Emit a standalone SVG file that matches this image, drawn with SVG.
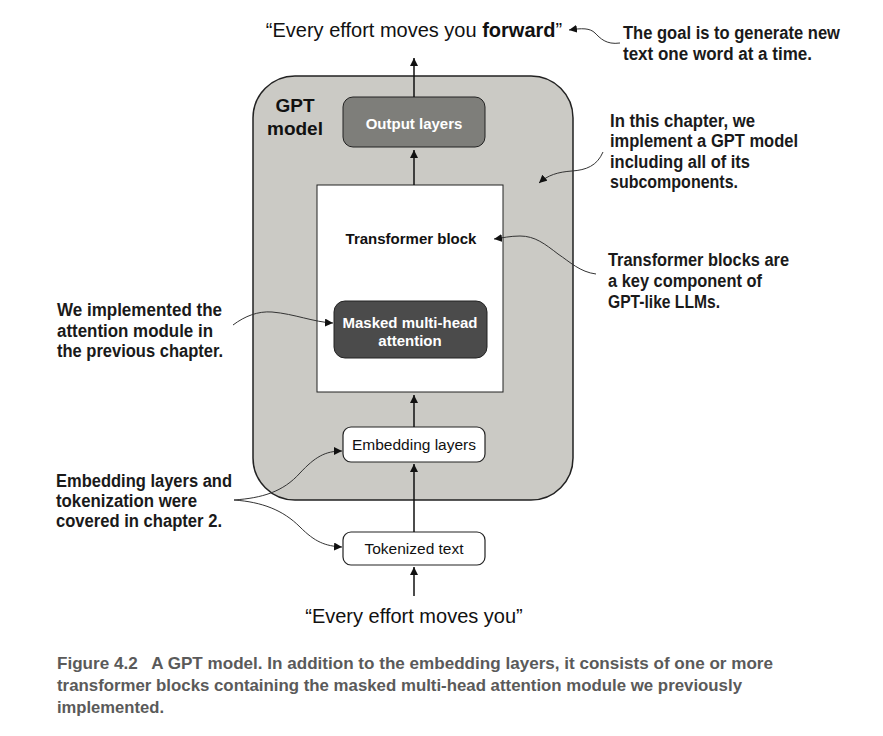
<svg xmlns="http://www.w3.org/2000/svg" width="883" height="736" viewBox="0 0 883 736">
<defs>
<marker id="ah" viewBox="0 0 10 10" refX="10" refY="5" markerWidth="8" markerHeight="8" markerUnits="userSpaceOnUse" orient="auto">
<path d="M0,0 L10,5 L0,10 z" fill="#111"/>
</marker>
<marker id="ahs" viewBox="0 0 10 10" refX="10" refY="5" markerWidth="8" markerHeight="8" markerUnits="userSpaceOnUse" orient="auto">
<path d="M0,0 L10,5 L0,10 z" fill="#111"/>
</marker>
</defs>
<style>
.main{font-family:"Liberation Sans",Arial,sans-serif;fill:#111}
.b{font-weight:bold}
.wt{fill:#fff;font-weight:bold;font-family:"Liberation Sans",Arial,sans-serif;font-size:15px}
.ann{font-family:"Liberation Sans",Arial,sans-serif;font-weight:bold;font-size:17.5px;fill:#1a1a1a}
.cap{font-family:"Liberation Sans",Arial,sans-serif;font-weight:bold;font-size:16.5px;fill:#5a5a5a}
.flow{stroke:#111;stroke-width:1.5;fill:none;marker-end:url(#ah)}
.note{stroke:#333;stroke-width:1;fill:none;marker-end:url(#ahs)}
</style>
<rect width="883" height="736" fill="#fff"/>

<g id="gpt-model">
<rect x="253" y="76" width="320" height="424" rx="42" fill="#cbcac5" stroke="#222" stroke-width="1.5"/>
<text class="main b" x="295" y="112" font-size="19" text-anchor="middle">GPT</text>
<text class="main b" x="295" y="135" font-size="19" text-anchor="middle">model</text>
</g>

<g id="transformer-block">
<rect x="317" y="185" width="186" height="207" fill="#fff" stroke="#222" stroke-width="1"/>
<text class="main b" x="411" y="244" font-size="15" text-anchor="middle">Transformer block</text>
</g>

<g id="output-layers">
<rect x="343" y="97" width="142" height="50" rx="10" fill="#7e7e7a" stroke="#222" stroke-width="1"/>
<text class="wt" x="414" y="129" text-anchor="middle">Output layers</text>
</g>

<g id="masked-attention">
<rect x="334" y="301" width="153" height="57" rx="11" fill="#4b4b4b" stroke="#222" stroke-width="1"/>
<text class="wt" x="410" y="328" text-anchor="middle">Masked multi-head</text>
<text class="wt" x="410" y="346" text-anchor="middle">attention</text>
</g>

<g id="embedding-layers">
<rect x="343" y="427" width="142" height="35" rx="8" fill="#fff" stroke="#222" stroke-width="1.2"/>
<text class="main" x="414" y="450" font-size="15.5" text-anchor="middle">Embedding layers</text>
</g>

<g id="tokenized-text">
<rect x="343" y="532" width="142" height="33" rx="8" fill="#fff" stroke="#222" stroke-width="1.2"/>
<text class="main" x="414" y="554" font-size="15.5" text-anchor="middle">Tokenized text</text>
</g>

<g id="output-text">
<text class="main" x="414" y="37" font-size="20" text-anchor="middle">“Every effort moves you <tspan class="b">forward</tspan>”</text>
</g>

<g id="input-text">
<text class="main" x="414" y="623" font-size="20" text-anchor="middle">“Every effort moves you”</text>
</g>

<g id="connectors">
<line class="flow" x1="414" y1="97" x2="414" y2="58"/>
<line class="flow" x1="414" y1="185" x2="414" y2="150"/>
<line class="flow" x1="414" y1="427" x2="414" y2="395"/>
<line class="flow" x1="414" y1="532" x2="414" y2="464"/>
<line class="flow" x1="414" y1="596" x2="414" y2="567"/>
<path class="note" d="M620,43 C606,45 600,38 595,33 C590,28 582,28 569,30"/>
<path class="note" d="M603,152 C597,166 586,170 572,171 C558,172 548,175 539,183"/>
<path class="note" d="M596,274 C580,272 570,262 558,254 C545,244 535,236 520,236 C510,236 502,238 494,239"/>
<path class="note" d="M233,325 C245,316 258,311 272,312 C295,314 313,322 333,323"/>
<path class="note" d="M234,500 C262,498 283,492 300,473 C315,457 325,451 342,451"/>
<path class="note" d="M234,500 C262,502 283,510 300,527 C315,542 325,546 342,547"/>
</g>

<g id="notes">
<text class="ann" x="623" y="39" textLength="217" lengthAdjust="spacingAndGlyphs">The goal is to generate new</text>
<text class="ann" x="623" y="60" textLength="189" lengthAdjust="spacingAndGlyphs">text one word at a time.</text>

<text class="ann" x="610" y="127" textLength="145" lengthAdjust="spacingAndGlyphs">In this chapter, we</text>
<text class="ann" x="610" y="147" textLength="188" lengthAdjust="spacingAndGlyphs">implement a GPT model</text>
<text class="ann" x="610" y="168" textLength="140" lengthAdjust="spacingAndGlyphs">including all of its</text>
<text class="ann" x="610" y="188" textLength="128" lengthAdjust="spacingAndGlyphs">subcomponents.</text>

<text class="ann" x="608" y="266" textLength="181" lengthAdjust="spacingAndGlyphs">Transformer blocks are</text>
<text class="ann" x="608" y="287" textLength="154" lengthAdjust="spacingAndGlyphs">a key component of</text>
<text class="ann" x="608" y="308" textLength="112" lengthAdjust="spacingAndGlyphs">GPT-like LLMs.</text>

<text class="ann" x="57" y="316" textLength="165" lengthAdjust="spacingAndGlyphs">We implemented the</text>
<text class="ann" x="57" y="337" textLength="156" lengthAdjust="spacingAndGlyphs">attention module in</text>
<text class="ann" x="57" y="357" textLength="166" lengthAdjust="spacingAndGlyphs">the previous chapter.</text>

<text class="ann" x="56" y="487" textLength="176" lengthAdjust="spacingAndGlyphs">Embedding layers and</text>
<text class="ann" x="56" y="507" textLength="141" lengthAdjust="spacingAndGlyphs">tokenization were</text>
<text class="ann" x="56" y="527" textLength="166" lengthAdjust="spacingAndGlyphs">covered in chapter 2.</text>
</g>

<g id="caption">
<text class="cap" x="57" y="669" textLength="716" lengthAdjust="spacingAndGlyphs" xml:space="preserve">Figure 4.2   A GPT model. In addition to the embedding layers, it consists of one or more</text>
<text class="cap" x="57" y="691" textLength="685" lengthAdjust="spacingAndGlyphs">transformer blocks containing the masked multi-head attention module we previously</text>
<text class="cap" x="57" y="713" textLength="107" lengthAdjust="spacingAndGlyphs">implemented.</text>
</g>
</svg>
